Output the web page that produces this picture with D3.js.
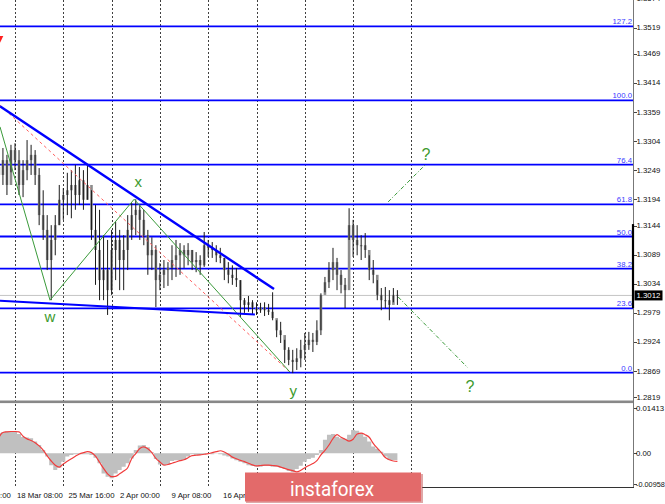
<!DOCTYPE html>
<html><head><meta charset="utf-8">
<script src="https://cdn.jsdelivr.net/npm/d3@7"></script>
<style>
body{margin:0;background:#fff;}
svg{display:block;font-family:"Liberation Sans",Arial,sans-serif;}
</style>
</head><body>
<svg id="c" width="665" height="504"></svg>
<script>
// ---------- DATA ----------
const highs = [1.3287,1.3291,1.3278,1.3297,1.3300,1.3287,1.3268,1.3306,1.3297,1.3287,
1.3253,1.3211,1.3164,1.3145,1.3164,1.3221,1.3215,1.3244,1.3249,1.3259,
1.3255,1.3249,1.3259,1.3211,1.3183,1.3174,1.3126,1.3117,1.3136,1.3151,
1.3136,1.3126,1.3164,1.3187,1.3194,1.3183,1.3174,1.3136,1.3122,1.3107,
1.3073,1.3079,1.3075,1.3107,1.3117,1.3111,1.3107,1.3111,1.3098,1.3094,
1.3088,1.3132,1.3117,1.3113,1.3107,1.3102,1.3083,1.3075,1.3069,1.3064,
1.3041,1.3007,1.3011,1.3003,1.2999,1.2998,1.2999,1.2996,1.3018,1.2965,
1.2962,1.2928,1.2914,1.2909,1.2912,1.2928,1.2941,1.2943,1.2941,1.2965,
1.3016,1.3047,1.3075,1.3102,1.3083,1.3060,1.3045,1.3177,1.3155,1.3145,
1.3126,1.3130,1.3088,1.3079,1.3041,1.3026,1.3028,1.3022,1.3026,1.3022];
const lows = [1.3211,1.3221,1.3202,1.3245,1.3249,1.3202,1.3198,1.3230,1.3240,1.3221,
1.3145,1.3117,1.3060,1.3003,1.3088,1.3145,1.3155,1.3164,1.3158,1.3174,
1.3183,1.3174,1.3193,1.3117,1.3032,1.3003,1.3003,1.2975,1.3013,1.3041,
1.3022,1.3022,1.3060,1.3117,1.3126,1.3117,1.3107,1.3051,1.3060,1.2990,
1.3022,1.3026,1.3030,1.3041,1.3047,1.3051,1.3064,1.3069,1.3060,1.3056,
1.3051,1.3066,1.3085,1.3083,1.3075,1.3073,1.3041,1.3035,1.3032,1.3028,
1.2971,1.2979,1.2981,1.2977,1.2975,1.2979,1.2973,1.2975,1.2965,1.2933,
1.2922,1.2884,1.2880,1.2865,1.2871,1.2876,1.2890,1.2909,1.2905,1.2918,
1.2937,1.3018,1.3026,1.3041,1.3022,1.3016,1.2988,1.3117,1.3085,1.3088,
1.3079,1.3083,1.3041,1.3035,1.3003,1.2984,1.2988,1.2965,1.2999,1.2994];
const closes = [1.3240,1.3268,1.3221,1.3287,1.3268,1.3221,1.3249,1.3268,1.3278,1.3240,
1.3164,1.3136,1.3079,1.3117,1.3145,1.3193,1.3202,1.3211,1.3221,1.3202,
1.3230,1.3193,1.3221,1.3136,1.3098,1.3041,1.3060,1.3022,1.3098,1.3117,
1.3079,1.3098,1.3136,1.3164,1.3174,1.3155,1.3126,1.3088,1.3098,1.3041,
1.3051,1.3060,1.3064,1.3079,1.3088,1.3098,1.3088,1.3098,1.3075,1.3079,
1.3069,1.3107,1.3102,1.3098,1.3088,1.3083,1.3060,1.3051,1.3045,1.3041,
1.3003,1.2994,1.2999,1.2988,1.2984,1.2990,1.2984,1.2981,1.2969,1.2946,
1.2937,1.2909,1.2890,1.2886,1.2893,1.2909,1.2918,1.2928,1.2924,1.2946,
1.3013,1.3037,1.3060,1.3075,1.3051,1.3032,1.3022,1.3145,1.3117,1.3107,
1.3107,1.3098,1.3060,1.3051,1.3013,1.3003,1.3003,1.2994,1.3013,1.3012];
const firstOpen = 1.3255;

const macdHist = [0.0063,0.0066,0.0068,0.0068,0.0068,0.0060,0.0051,0.0049,0.0047,0.0037,
0.0026,0.0010,-0.0010,-0.0037,-0.0052,-0.0045,-0.0026,-0.0010,-0.0005,-0.0003,
-0.0003,-0.0003,-0.0003,-0.0005,-0.0014,-0.0031,-0.0063,-0.0073,-0.0078,-0.0063,
-0.0052,-0.0042,-0.0031,-0.0016,0.0010,0.0024,0.0026,0.0019,0.0003,-0.0018,
-0.0035,-0.0037,-0.0035,-0.0024,-0.0022,-0.0021,-0.0021,-0.0010,-0.0003,-0.0005,
-0.0005,-0.0003,-0.0001,-0.0003,-0.0001,-0.0003,-0.0007,-0.0010,-0.0016,-0.0022,
-0.0026,-0.0031,-0.0037,-0.0040,-0.0042,-0.0042,-0.0040,-0.0040,-0.0042,-0.0042,
-0.0045,-0.0049,-0.0055,-0.0058,-0.0049,-0.0039,-0.0026,-0.0018,-0.0014,-0.0005,
0.0010,0.0042,0.0058,0.0060,0.0052,0.0047,0.0045,0.0058,0.0073,0.0070,
0.0063,0.0052,0.0037,0.0021,0.0014,0.0005,-0.0010,-0.0021,-0.0021,-0.0021];
const macdSignal = [0.0050,0.0065,0.0067,0.0068,0.0068,0.0067,0.0053,0.0045,0.0040,0.0033,
0.0023,0.0010,-0.0008,-0.0024,-0.0037,-0.0043,-0.0033,-0.0025,-0.0017,-0.0009,
-0.0002,0.0002,0.0005,0.0002,-0.0009,-0.0028,-0.0047,-0.0064,-0.0073,-0.0072,
-0.0064,-0.0055,-0.0045,-0.0016,-0.0001,0.0015,0.0020,0.0014,0.0002,-0.0016,
-0.0027,-0.0037,-0.0035,-0.0031,-0.0027,-0.0023,-0.0020,-0.0014,-0.0007,-0.0006,
-0.0005,-0.0003,-0.0001,0.0002,0.0005,0.0008,0.0004,-0.0003,-0.0012,-0.0017,
-0.0022,-0.0026,-0.0031,-0.0036,-0.0039,-0.0038,-0.0037,-0.0037,-0.0038,-0.0039,
-0.0043,-0.0047,-0.0051,-0.0054,-0.0058,-0.0053,-0.0045,-0.0038,-0.0032,-0.0023,
-0.0005,0.0009,0.0026,0.0046,0.0058,0.0050,0.0044,0.0038,0.0044,0.0060,
0.0063,0.0058,0.0050,0.0031,0.0016,0.0002,-0.0013,-0.0020,-0.0024,-0.0025];

const priceTicks = [1.3574,1.3519,1.3469,1.3414,1.3359,1.3304,1.3249,1.3194,1.3144,1.3089,1.3034,1.2979,1.2924,1.2869,1.2819];
const macdTicks = [0.01413,0,-0.00958];
const macdTickLabels = ["0.01413","0.00","-0.00958"];
const fibLevels = [0,23.6,38.2,50,61.8,76.4,100,127.2];
const fibLabels = ["0.0","23.6","38.2","50.0","61.8","76.4","100.0","127.2"];
const fibBase = 1.2866, fibTop = 1.3381;
const lastPrice = 1.3012;
const gridIdx = [4,16,28,40,52,64,76,88,102.4];
const timeLabelIdx = [-8.3,4.5,17.3,30.1,42.9,55.7];
const timeLabels = ["11 Mar 00:00","18 Mar 08:00","25 Mar 16:00","2 Apr 00:00","9 Apr 08:00","16 Apr 16:00"];
// annotation lines: [index, price]
const trendLine = [[0.27,1.3370],[68.35,1.3024]];
const supportLine = [[0.27,1.3002],[63.6,1.2976]];
const redChannel = [[0.27,1.3372],[72.3,1.2867]];
const wavePath = [[0.27,1.3331],[12.7,1.3003],[33.6,1.3194],[72.3,1.2867]];
const futureUp = [[96.7,1.3189],[105.9,1.3259]];
const futureDown = [[99.2,1.3009],[116.5,1.2875]];
const waveLabels = [{t:"w",i:12.7,p:1.2973},{t:"x",i:34.6,p:1.3227},{t:"y",i:73.1,p:1.2833},{t:"?",i:106.1,p:1.3278},{t:"?",i:117.0,p:1.2839}];
const rangeMarker = [1.2988,1.3147];
const redMark = [[-0.2,1.3503],[1.1,1.3503],[0.25,1.3490]];

// ---------- SCALES ----------
const svg = d3.select("#c");
const W = 665, H = 504;
const plotRight = 633;
const x = d3.scaleLinear().domain([0,99]).range([-1.1,397.4]);
const y = d3.scaleLinear().domain([1.3519,1.2869]).range([27.5,371]);
const ym = d3.scaleLinear().domain([0.01413,0]).range([408,453.3]);

svg.append("rect").attr("width",W).attr("height",H).attr("fill","#fff");
const defs = svg.append("defs");
defs.append("clipPath").attr("id","pc").append("rect").attr("x",0).attr("y",0).attr("width",plotRight).attr("height",400);
defs.append("clipPath").attr("id","mc").append("rect").attr("x",0).attr("y",403).attr("width",plotRight).attr("height",84);

// ---------- GRID ----------
svg.append("g").selectAll("line").data(gridIdx).join("line")
  .attr("x1",d=>Math.round(x(d))+0.5).attr("x2",d=>Math.round(x(d))+0.5)
  .attr("y1",0).attr("y2",487)
  .attr("stroke","#000").attr("stroke-width",1).attr("stroke-dasharray","2,2").attr("opacity",0.75);

// ---------- FIB LINES ----------
const main = svg.append("g").attr("clip-path","url(#pc)");
const fibPrice = l => fibBase + (fibTop-fibBase)*l/100;
main.selectAll("line.fib").data(fibLevels).join("line").attr("class","fib")
  .attr("x1",0).attr("x2",plotRight)
  .attr("y1",d=>y(fibPrice(d))).attr("y2",d=>y(fibPrice(d)))
  .attr("stroke","#0000ff").attr("stroke-width",1.8);

// current price line
main.append("line").attr("x1",0).attr("x2",plotRight)
  .attr("y1",y(lastPrice)).attr("y2",y(lastPrice))
  .attr("stroke","#c4c4c4").attr("stroke-width",1);

// ---------- CANDLES ----------
const bars = closes.map((c,i)=>({i, o: i===0?firstOpen:closes[i-1], h:highs[i], l:lows[i], c}));
main.append("g").selectAll("rect").data(bars).join("rect")
  .attr("x",d=>x(d.i)-1.3).attr("width",2.6)
  .attr("y",d=>y(Math.max(d.o,d.c))).attr("height",d=>Math.max(1,Math.abs(y(d.o)-y(d.c))))
  .attr("fill","#8c8c8c");
main.append("g").selectAll("line").data(bars).join("line")
  .attr("x1",d=>x(d.i)).attr("x2",d=>x(d.i))
  .attr("y1",d=>y(d.h)).attr("y2",d=>y(d.l))
  .attr("stroke","#1a1a1a").attr("stroke-width",1);

// ---------- ANNOTATIONS ----------
const ln = d3.line().x(d=>x(d[0])).y(d=>y(d[1]));
main.append("path").attr("d",ln(redChannel)).attr("fill","none")
  .attr("stroke","#ff6060").attr("stroke-width",1).attr("stroke-dasharray","3,3");
main.append("path").attr("d",ln(wavePath)).attr("fill","none")
  .attr("stroke","#3a9a3a").attr("stroke-width",1);
main.append("path").attr("d",ln(trendLine)).attr("fill","none")
  .attr("stroke","#0000ff").attr("stroke-width",2.4);
main.append("path").attr("d",ln(supportLine)).attr("fill","none")
  .attr("stroke","#0000ff").attr("stroke-width",2);
main.append("path").attr("d",ln(futureUp)).attr("fill","none")
  .attr("stroke","#3a9a3a").attr("stroke-width",1).attr("stroke-dasharray","4,2,1,2");
main.append("path").attr("d",ln(futureDown)).attr("fill","none")
  .attr("stroke","#3a9a3a").attr("stroke-width",1).attr("stroke-dasharray","4,2,1,2");
main.append("path").attr("d",ln(redMark)+"Z").attr("fill","#ff2020").attr("stroke","none");

main.selectAll("text.wave").data(waveLabels).join("text").attr("class","wave")
  .attr("x",d=>x(d.i)).attr("y",d=>y(d.p)).attr("text-anchor","middle")
  .attr("dominant-baseline","central")
  .attr("font-size",d=>d.t==="?"?16:15).attr("fill","#3d9a2d").text(d=>d.t);

// fib labels
svg.append("g").selectAll("text").data(fibLevels).join("text")
  .attr("x",plotRight-1).attr("y",d=>y(fibPrice(d))-2)
  .attr("text-anchor","end").attr("font-size",7.8).attr("fill","#3a3aff")
  .text((d,i)=>fibLabels[i]);

// ---------- MACD PANEL ----------
const mp = svg.append("g").attr("clip-path","url(#mc)");
const ha = d3.area().x((d,i)=>x(i)).y0(ym(0)).y1(d=>ym(d)).curve(d3.curveStep);
mp.append("path").attr("d",ha(macdHist)).attr("fill","#c0c0c0");
const sl = d3.line().x((d,i)=>x(i)).y(d=>ym(d)).curve(d3.curveMonotoneX);
mp.append("path").attr("d",sl(macdSignal)).attr("fill","none")
  .attr("stroke","#f03c3c").attr("stroke-width",1.2);

// separator
svg.append("rect").attr("x",0).attr("y",400.5).attr("width",plotRight+1).attr("height",2.6).attr("fill","#888");

// ---------- AXES ----------
svg.append("line").attr("x1",plotRight+0.5).attr("x2",plotRight+0.5).attr("y1",0).attr("y2",487.5)
  .attr("stroke","#777").attr("stroke-width",1);
svg.append("line").attr("x1",422).attr("x2",plotRight+1).attr("y1",487.5).attr("y2",487.5)
  .attr("stroke","#333").attr("stroke-width",1);

const pa = svg.append("g");
pa.selectAll("line").data(priceTicks).join("line")
  .attr("x1",plotRight+1).attr("x2",plotRight+4).attr("y1",d=>Math.round(y(d))+0.5).attr("y2",d=>Math.round(y(d))+0.5)
  .attr("stroke","#444");
pa.selectAll("text").data(priceTicks).join("text")
  .attr("x",636.5).attr("y",d=>y(d)).attr("dominant-baseline","central")
  .attr("font-size",7.8).attr("fill","#111").text(d=>d.toFixed(4));

// range marker on axis
svg.append("line").attr("x1",plotRight).attr("x2",plotRight)
  .attr("y1",y(rangeMarker[1])).attr("y2",y(rangeMarker[0]))
  .attr("stroke","#000").attr("stroke-width",2.2);

// last price label
svg.append("rect").attr("x",634.5).attr("y",y(lastPrice)-5).attr("width",28).attr("height",10).attr("fill","#000");
svg.append("text").attr("x",636.5).attr("y",y(lastPrice)).attr("dominant-baseline","central")
  .attr("font-size",7.8).attr("fill","#fff").text(lastPrice.toFixed(4));

const ma = svg.append("g");
ma.selectAll("line").data(macdTicks).join("line")
  .attr("x1",plotRight+1).attr("x2",plotRight+4).attr("y1",d=>Math.round(ym(d))+0.5).attr("y2",d=>Math.round(ym(d))+0.5)
  .attr("stroke","#444");
ma.selectAll("text").data(macdTicks).join("text")
  .attr("x",636).attr("y",d=>ym(d)).attr("dominant-baseline","central")
  .attr("font-size",d=>d<0?7.3:7.8).attr("fill","#111").text((d,i)=>macdTickLabels[i]);

// time labels
svg.append("g").selectAll("text").data(timeLabelIdx).join("text")
  .attr("x",d=>x(d)).attr("y",498).attr("font-size",7.8).attr("fill","#111")
  .text((d,i)=>timeLabels[i]);

// ---------- WATERMARK ----------
svg.append("rect").attr("x",246).attr("y",474).attr("width",177).attr("height",29).attr("fill","#c05050").attr("opacity",0.5);
svg.append("rect").attr("x",245).attr("y",472.5).attr("width",176).attr("height",29).attr("fill","#e36a6a");
svg.append("text").attr("x",290).attr("y",496).attr("font-family","Roboto, 'Open Sans', sans-serif")
  .attr("font-size",20).attr("fill","#fff").attr("textLength",84).attr("lengthAdjust","spacingAndGlyphs")
  .text("instaforex");
</script>
</body></html>
